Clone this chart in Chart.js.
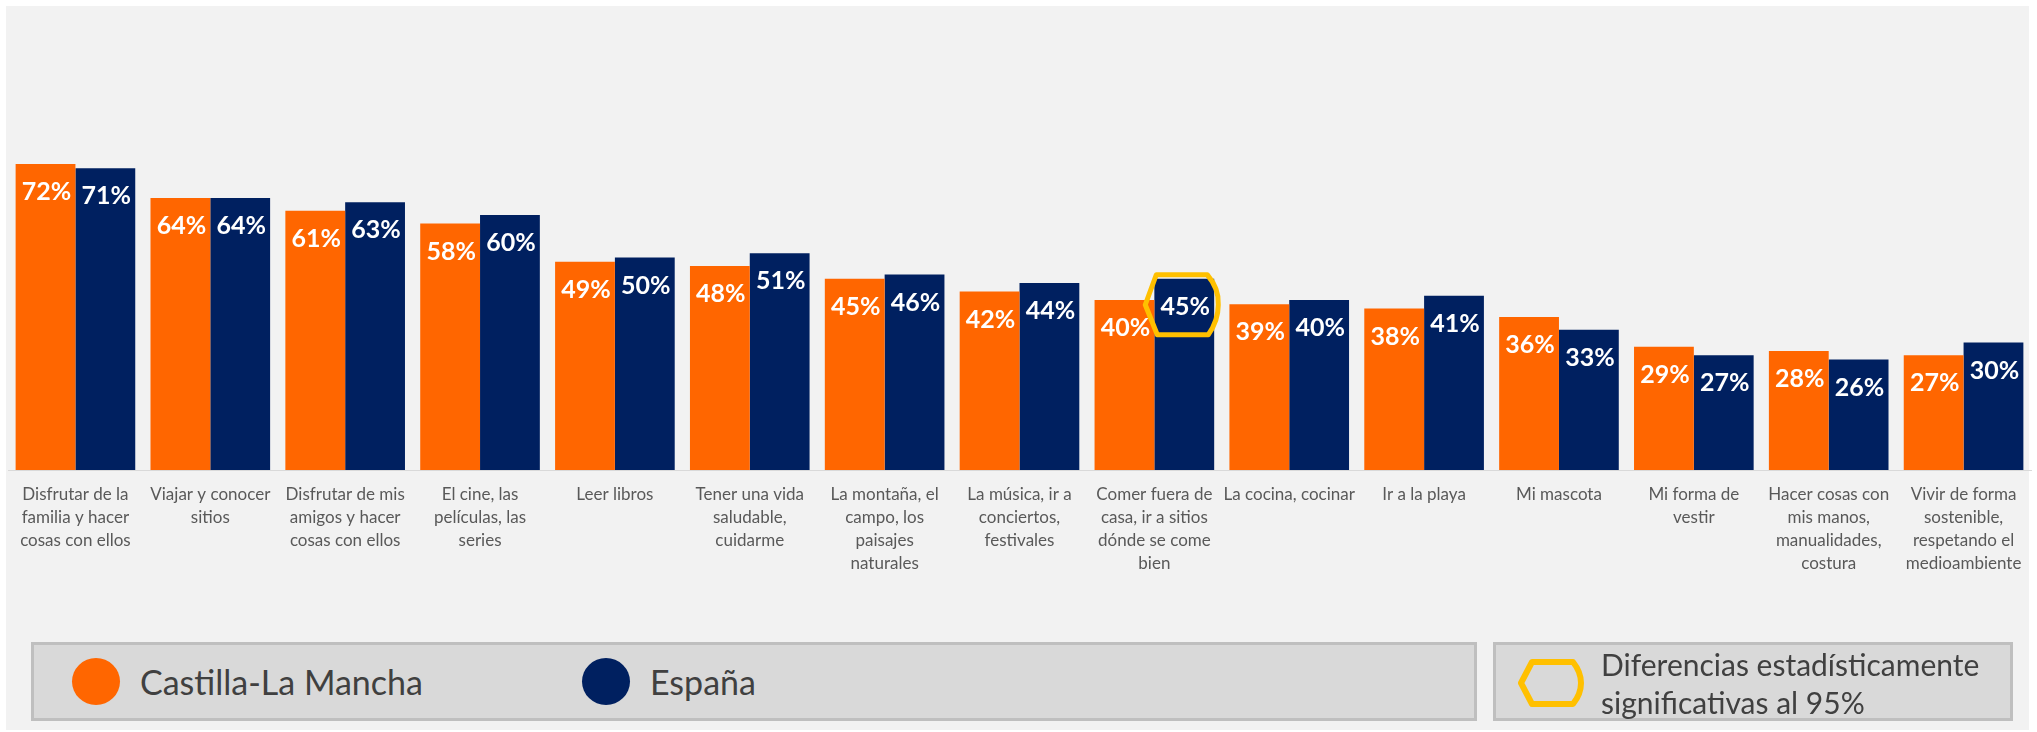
<!DOCTYPE html>
<html lang="es">
<head>
<meta charset="utf-8">
<title>Intereses: Castilla-La Mancha vs España</title>
<script src="https://cdn.jsdelivr.net/npm/chart.js@4.4.1/dist/chart.umd.min.js"></script>
<style>
  html, body { margin: 0; padding: 0; background: #fff; }
  #wrap { position: relative; width: 2037px; height: 732px; overflow: hidden; }
  #bg { position: absolute; left: 6px; top: 6px; width: 2023px; height: 724px; background: #f2f2f2; }
  #chart { position: absolute; left: 0; top: 0; }
  .legend-box {
    position: absolute; top: 642px; height: 79px; box-sizing: border-box;
    background: #d9d9d9; border: 3px solid #bfbfbf;
    font-family: Lato, "Open Sans", sans-serif; color: #404040;
  }
  .legend-item { position: absolute; top: 0; height: 73px; display: flex; align-items: center; }
  .legend-dot { width: 48px; height: 47px; border-radius: 50%; margin-right: 20px; }
  .legend-item span { font-size: 34px; line-height: 1; }
  #sigText { position: absolute; left: 105px; top: 0; font-size: 30px; line-height: 38px; }
  #sigIcon { position: absolute; left: 21px; top: 13px; }
</style>
</head>
<body>
<div id="wrap">
  <div id="bg"></div>
  <canvas id="chart" width="2037" height="732"></canvas>
  <div class="legend-box" id="legendSeries" style="left:31px; width:1446px;"></div>
  <div class="legend-box" id="legendSig" style="left:1493px; width:520px;">
    <svg id="sigIcon" width="70" height="50" viewBox="0 0 70 50">
      <path d="M4 25 L15 4 L56 4 Q64 14 64 25 Q64 36 56 46 L15 46 Z"
            fill="none" stroke="#FFC000" stroke-width="6" stroke-linejoin="round"/>
    </svg>
    <div id="sigText">Diferencias estadísticamente<br>significativas al 95%</div>
  </div>
</div>
<script>
// Categorías (cada elemento es una etiqueta en varias líneas)
const categories = [
  ["Disfrutar de la", "familia y hacer", "cosas con ellos"],
  ["Viajar y conocer", "sitios"],
  ["Disfrutar de mis", "amigos y hacer", "cosas con ellos"],
  ["El cine, las", "películas, las", "series"],
  ["Leer libros"],
  ["Tener una vida", "saludable,", "cuidarme"],
  ["La montaña, el", "campo, los", "paisajes", "naturales"],
  ["La música, ir a", "conciertos,", "festivales"],
  ["Comer fuera de", "casa, ir a sitios", "dónde se come", "bien"],
  ["La cocina, cocinar"],
  ["Ir a la playa"],
  ["Mi mascota"],
  ["Mi forma de", "vestir"],
  ["Hacer cosas con", "mis manos,", "manualidades,", "costura"],
  ["Vivir de forma", "sostenible,", "respetando el", "medioambiente"]
]

const castillaLaMancha = [72, 64, 61, 58, 49, 48, 45, 42, 40, 39, 38, 36, 29, 28, 27]
const espana = [71, 64, 63, 60, 50, 51, 46, 44, 45, 40, 41, 33, 27, 26, 30]

// Diferencias significativas: [índice de serie, índice de categoría]
const significant = [[1, 8]]

const ORANGE = '#FF6600'
const NAVY = '#002060'

function hexPath(ctx, cx, cy) {
    ctx.beginPath()
    ctx.moveTo(cx - 38, cy)
    ctx.lineTo(cx - 27, cy - 30)
    ctx.lineTo(cx + 24, cy - 30)
    ctx.quadraticCurveTo(cx + 36, cy - 16, cx + 35, cy)
    ctx.quadraticCurveTo(cx + 35, cy + 16, cx + 25, cy + 30)
    ctx.lineTo(cx - 26, cy + 30)
    ctx.closePath()
}

// Etiquetas de valor dentro de las barras + marca de diferencia significativa
const valueLabels = {
    id: 'valueLabels',
    afterDatasetsDraw(chart) {
        const ctx = chart.ctx
        ctx.save()
        ctx.font = 'bold 25px Lato'
        ctx.fillStyle = '#ffffff'
        ctx.textAlign = 'center'
        ctx.textBaseline = 'middle'
        chart.data.datasets.forEach((ds, i) => {
            chart.getDatasetMeta(i).data.forEach((bar, j) => {
                ctx.fillText(ds.data[j] + '%', bar.x + 1, bar.y + 28)
            })
        })
        ctx.strokeStyle = '#FFC000'
        ctx.lineWidth = 5
        ctx.lineJoin = 'round'
        significant.forEach(([d, j]) => {
            const bar = chart.getDatasetMeta(d).data[j]
            hexPath(ctx, bar.x - 1, bar.y + 26)
            ctx.stroke()
        })
        ctx.restore()
    }
}

const chart = new Chart(document.getElementById('chart'), {
    type: 'bar',
    data: {
        labels: categories,
        datasets: [{
            label: 'Castilla-La Mancha',
            data: castillaLaMancha,
            backgroundColor: ORANGE,
            categoryPercentage: 0.887,
            barPercentage: 1.0
        }, {
            label: 'España',
            data: espana,
            backgroundColor: NAVY,
            categoryPercentage: 0.887,
            barPercentage: 1.0
        }]
    },
    options: {
        responsive: false,
        animation: false,
        devicePixelRatio: 1,
        layout: { padding: { left: 8, right: 6, top: 45, bottom: 0 } },
        plugins: {
            legend: { display: false },
            tooltip: { enabled: false }
        },
        scales: {
            x: {
                grid: { display: false, drawTicks: false },
                border: { display: true, color: '#d9d9d9', width: 1 },
                ticks: {
                    color: '#595959',
                    padding: 13,
                    maxRotation: 0,
                    autoSkip: false,
                    font: { family: 'Lato', size: 17, lineHeight: 1.36 }
                },
                afterFit(scale) { scale.height = 262 }
            },
            y: {
                display: false,
                min: 0,
                max: 100
            }
        }
    },
    plugins: [valueLabels]
})

// Leyenda HTML a partir de las series
const legendEl = document.getElementById('legendSeries')
const positions = [38, 548]
chart.data.datasets.forEach((ds, i) => {
    const item = document.createElement('div')
    item.className = 'legend-item'
    item.style.left = positions[i] + 'px'
    item.innerHTML = '<div class="legend-dot" style="background:' + ds.backgroundColor + '"></div><span>' + ds.label + '</span>'
    legendEl.appendChild(item)
})
</script>
</body>
</html>
